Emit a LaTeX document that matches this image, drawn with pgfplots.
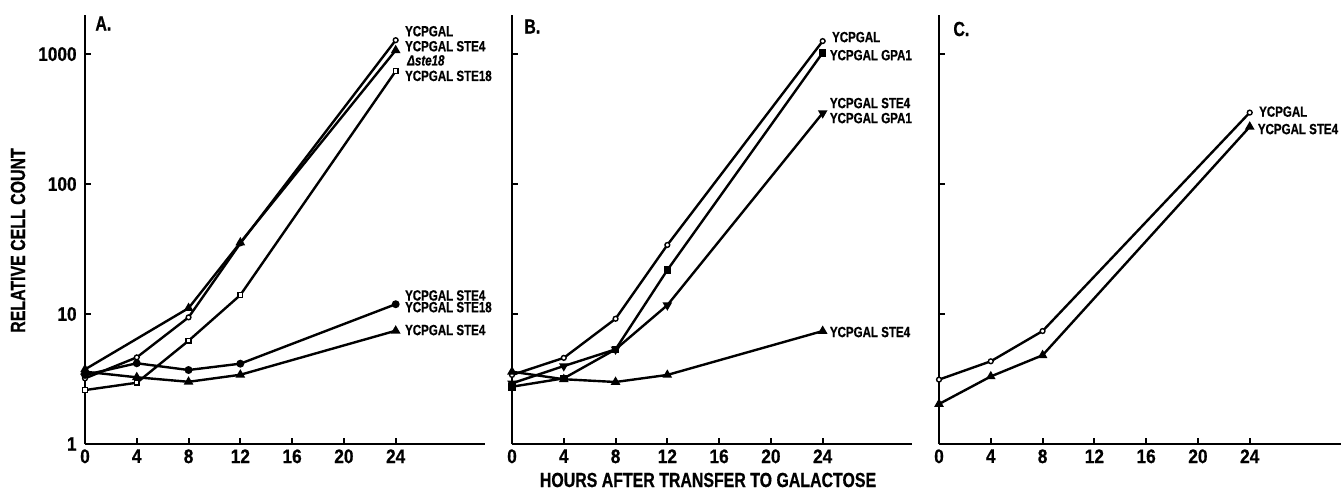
\documentclass[border=0pt]{standalone}
\usepackage{fontspec}
\setmainfont{Liberation Sans}[FakeStretch=0.78, FakeBold=0.6]
\newfontfamily\tickfont{Liberation Sans}[FakeStretch=0.88, FakeBold=0.6]
\usepackage{pgfplots}
\pgfplotsset{compat=1.18}
\newcommand\tk{\tickfont\fontsize{9.8bp}{10bp}\selectfont\bfseries}
\newcommand\ttl{\fontsize{10.2bp}{11bp}\selectfont\bfseries}
\newcommand\lb{\fontsize{7.4bp}{8bp}\selectfont\bfseries}
\pgfplotsset{
  mypanel/.style={
    scale only axis, height=214.5bp,
    xmin=0, ymin=1, ymax=2000,
    axis x line*=bottom, axis y line*=left,
    axis line style={-, line width=1.2bp},
    xtick={0,4,8,12,16,20,24}, xticklabels={0,4,8,12,16,20,24},
    ytick={1,10,100,1000},
    yminorticks=false, xminorticks=false,
    tick align=inside, major tick length=3bp,
    tick style={black, line width=1bp},
    clip=false,
    xticklabel style={font=\tk, inner sep=0pt, yshift=-2.5bp},
    yticklabel style={font=\tk, inner sep=0pt, xshift=-4bp},
  },
}
\tikzset{
  serln/.style={black, line width=1.2bp},
  seroc/.style={serln, mark=*, mark size=1.2bp, mark options={solid, fill=white, draw=black, line width=0.7bp}},
  serfc/.style={serln, mark=*, mark size=1.35bp, mark options={solid, fill=black}},
  serft/.style={serln, mark=triangle*, mark size=1.6bp, mark options={solid, fill=black}},
  serfti/.style={serln, mark=triangle*, mark size=1.6bp, mark options={solid, fill=black, rotate=180}},
  seros/.style={serln, mark=square*, mark size=1.2bp, mark options={solid, fill=white, draw=black, line width=0.7bp}},
  serfs/.style={serln, mark=square*, mark size=1.3bp, mark options={solid, fill=black}},
  serlab/.style={anchor=west, inner sep=0pt, font=\lb},
}
\begin{document}
\begin{tikzpicture}
\path[use as bounding box] (0,0) rectangle (670.5bp,245.5bp);
% Panel A
\begin{axis}[ymode=log, mypanel, width=200bp, xmax=30.9, at={(42.5bp,23.5bp)}, anchor=south west, yticklabels={1,10,100,1000}]
\addplot[seroc] coordinates {(0,3.2) (4,4.64) (8,9.43) (12,35) (24,1280)};
\addplot[serft] coordinates {(0,3.75) (8,11.1) (12,35.5) (24,1070)};
\addplot[seros] coordinates {(0,2.6) (4,2.96) (8,6.23) (12,14.0) (24,740)};
\addplot[serfc] coordinates {(0,3.4) (4,4.18) (8,3.71) (12,4.15) (24,11.9)};
\addplot[serft] coordinates {(0,3.6) (4,3.26) (8,3.01) (12,3.41) (24,7.44)};
\node[serlab] at (axis cs:24.7,1500) {YCPGAL};
\node[serlab] at (axis cs:24.7,1150) {YCPGAL STE4};
\node[serlab] at (axis cs:24.86,895) {\textit{Δste18}};
\node[serlab] at (axis cs:24.7,680) {YCPGAL STE18};
\node[serlab] at (axis cs:24.7,13.9) {YCPGAL STE4};
\node[serlab] at (axis cs:24.7,11.3) {YCPGAL STE18};
\node[serlab] at (axis cs:24.7,7.53) {YCPGAL STE4};
\end{axis}
% Panel B
\begin{axis}[ymode=log, mypanel, width=200bp, xmax=30.9, at={(256bp,23.5bp)}, anchor=south west, yticklabels={}]
\addplot[seroc] coordinates {(0,3.4) (4,4.6) (8,9.2) (12,34) (24,1260)};
\addplot[serfs] coordinates {(0,2.76) (4,3.2) (8,5.35) (12,21.8) (24,1025)};
\addplot[serfti] coordinates {(0,2.93) (4,3.98) (8,5.35) (12,11.7) (24,352)};
\addplot[serft] coordinates {(0,3.6) (4,3.15) (8,3.0) (12,3.4) (24,7.4)};
\node[serlab] at (axis cs:24.7,1352) {YCPGAL};
\node[serlab] at (axis cs:24.53,982) {YCPGAL GPA1};
\node[serlab] at (axis cs:24.53,420) {YCPGAL STE4};
\node[serlab] at (axis cs:24.53,322) {YCPGAL GPA1};
\node[serlab] at (axis cs:24.53,7.27) {YCPGAL STE4};
\end{axis}
% Panel C
\begin{axis}[ymode=log, mypanel, width=201bp, xmax=31.05, at={(469.5bp,23.5bp)}, anchor=south west, yticklabels={}]
\addplot[seroc] coordinates {(0,3.13) (4,4.33) (8,7.4) (24,355)};
\addplot[serft] coordinates {(0,2.03) (4,3.31) (8,4.82) (24,276)};
\node[serlab] at (axis cs:24.7,361) {YCPGAL};
\node[serlab] at (axis cs:24.6,265) {YCPGAL STE4};
\end{axis}
\node[rotate=90, font=\ttl, inner sep=0pt] at (9bp,125.25bp) {RELATIVE CELL COUNT};
\node[font=\ttl, inner sep=0pt] at (354bp,5.5bp) {HOURS AFTER TRANSFER TO GALACTOSE};
\node[anchor=west, inner sep=0pt, font=\ttl] at (47.5bp,233.75bp) {A.};
\node[anchor=west, inner sep=0pt, font=\ttl] at (262bp,232.25bp) {B.};
\node[anchor=west, inner sep=0pt, font=\ttl] at (476.5bp,231bp) {C.};
\end{tikzpicture}
\end{document}
